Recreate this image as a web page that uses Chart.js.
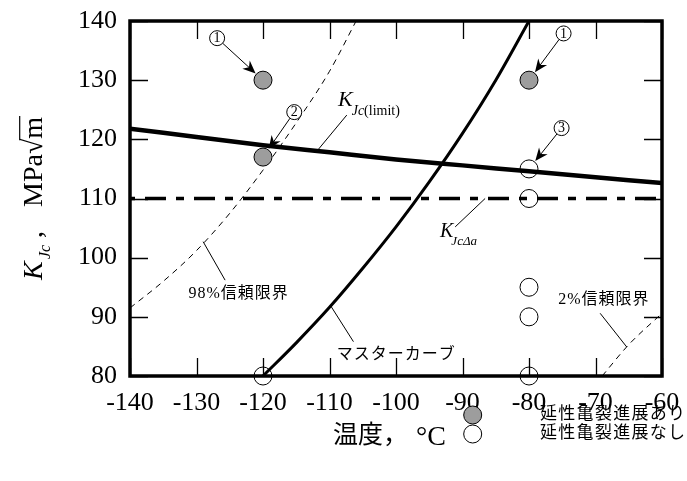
<!DOCTYPE html>
<html>
<head>
<meta charset="utf-8">
<script src="https://cdn.jsdelivr.net/npm/chart.js@4/dist/chart.umd.min.js"></script>
<style>
  html, body { margin: 0; padding: 0; background: #fff; }
  #wrap { width: 687px; height: 481px; position: relative; }
</style>
</head>
<body>
<div id="wrap"><canvas id="c" width="687" height="481"></canvas></div>
<script>
// Axis ticks
const xTicks = [-140, -130, -120, -110, -100, -90, -80, -70, -60];
const yTicks = [80, 90, 100, 110, 120, 130, 140];

// K_Jc(limit) curve
const limitT = [-140, -130, -120, -110, -100, -90, -80, -70, -60];
const limitK = [121.8, 120.4, 119.0, 117.8, 116.6, 115.6, 114.6, 113.6, 112.6];

// K_JcΔa level
const deltaAT = [-140, -60];
const deltaAK = [110, 110];

// Master curve
const masterT = [-120, -115, -110, -105, -100, -95, -90, -85, -80];
const masterK = [80, 85.6, 91.6, 98.2, 105.2, 112.8, 121.0, 130.0, 140];

// 98% confidence bound
const upperT = [-140, -135, -130, -125, -120, -115, -110, -106];
const upperK = [91.5, 96.0, 101.2, 107.5, 114.8, 122.8, 131.5, 140];

// 2% confidence bound
const lowerT = [-69, -65, -60];
const lowerK = [80, 85.3, 90.6];

// Test results: ductile crack growth observed / not observed
const growthT = [-120, -120, -80];
const growthK = [130, 117, 130];
const noGrowthT = [-120, -80, -80, -80, -80, -80];
const noGrowthK = [80, 115, 110, 95, 90, 80];

const SERIF = '"Liberation Serif", "Times New Roman", serif';
const MIXED = '"Liberation Serif", "Noto Sans CJK JP", "Noto Sans CJK SC", serif';
const GRAY = '#9d9d9d';

const pts = (xs, ys) => xs.map((x, i) => ({ x, y: ys[i] }));

function curve(xs, ys, width, dash, offset) {
  return {
    type: 'scatter',
    data: pts(xs, ys),
    showLine: true,
    borderColor: '#000',
    backgroundColor: '#000',
    borderWidth: width,
    borderDash: dash || [],
    borderDashOffset: offset || 0,
    borderCapStyle: 'butt',
    pointRadius: 0,
    pointHoverRadius: 0,
    cubicInterpolationMode: 'monotone',
    fill: false,
    order: 2
  };
}

// Callouts: circled numbers pointing at specimens
const callouts = [
  { label: '1', at: [-126.9, 137.1], target: [-120, 130] },
  { label: '2', at: [-115.3, 124.6], target: [-120, 117] },
  { label: '1', at: [-74.8, 137.9], target: [-80, 130] },
  { label: '3', at: [-75.1, 121.9], target: [-80, 115] }
];

// Leader lines for curve labels
const leaders = [
  [[-107.4, 124.1], [-111.9, 118.0]],
  [[-91.1, 105.2], [-86.6, 110.0]],
  [[-125.7, 96.2], [-129.0, 102.7]],
  [[-106.4, 85.8], [-109.9, 92.0]],
  [[-69.3, 90.6], [-65.3, 84.9]]
];

const curveLabels = [
  { text: '98%信頼限界', at: [-131.2, 93.9] },
  { text: 'マスターカーブ', at: [-108.9, 83.55] },
  { text: '2%信頼限界', at: [-75.6, 92.96] }
];

function drawArrow(ctx, x0, y0, x1, y1) {
  const a = Math.atan2(y1 - y0, x1 - x0);
  const L = 13, W = 5.5, N = 4;
  ctx.beginPath();
  ctx.moveTo(x0, y0);
  ctx.lineTo(x1 - Math.cos(a) * N, y1 - Math.sin(a) * N);
  ctx.lineWidth = 1;
  ctx.stroke();
  ctx.save();
  ctx.translate(x1, y1);
  ctx.rotate(a);
  ctx.beginPath();
  ctx.moveTo(0, 0);
  ctx.lineTo(-L, -W);
  ctx.lineTo(-L + N, 0);
  ctx.lineTo(-L, W);
  ctx.closePath();
  ctx.fillStyle = '#000';
  ctx.fill();
  ctx.restore();
}

function spacing(ctx, v) { if ('letterSpacing' in ctx) ctx.letterSpacing = v; }

const decor = {
  id: 'decor',
  afterDraw(chart) {
    const { ctx, chartArea: ca, scales } = chart;
    const px = v => scales.x.getPixelForValue(v);
    const py = v => scales.y.getPixelForValue(v);
    ctx.save();
    ctx.strokeStyle = '#000';
    ctx.fillStyle = '#000';

    // inward ticks on all four sides
    ctx.lineWidth = 1.3;
    const tl = 18;
    xTicks.forEach(t => {
      const x = Math.round(px(t)) + 0.5;
      ctx.beginPath();
      ctx.moveTo(x, ca.bottom); ctx.lineTo(x, ca.bottom - tl);
      ctx.moveTo(x, ca.top); ctx.lineTo(x, ca.top + tl);
      ctx.stroke();
    });
    yTicks.forEach(t => {
      const y = Math.round(py(t)) + 0.5;
      ctx.beginPath();
      ctx.moveTo(ca.left, y); ctx.lineTo(ca.left + tl, y);
      ctx.moveTo(ca.right, y); ctx.lineTo(ca.right - tl, y);
      ctx.stroke();
    });

    // frame
    ctx.lineWidth = 3.5;
    ctx.strokeRect(ca.left, ca.top, ca.right - ca.left, ca.bottom - ca.top);

    // leader lines
    ctx.lineWidth = 1;
    leaders.forEach(([a, b]) => {
      ctx.beginPath();
      ctx.moveTo(px(a[0]), py(a[1]));
      ctx.lineTo(px(b[0]), py(b[1]));
      ctx.stroke();
    });

    // circled numbers with arrows
    const R = 7.5, markerR = 9;
    callouts.forEach(c => {
      const cx = px(c.at[0]), cy = py(c.at[1]);
      const tx = px(c.target[0]), ty = py(c.target[1]);
      const d = Math.hypot(tx - cx, ty - cy);
      const ux = (tx - cx) / d, uy = (ty - cy) / d;
      ctx.beginPath();
      ctx.arc(cx, cy, R, 0, Math.PI * 2);
      ctx.fillStyle = '#fff';
      ctx.fill();
      ctx.lineWidth = 1;
      ctx.stroke();
      ctx.fillStyle = '#000';
      ctx.font = '14px ' + SERIF;
      ctx.textAlign = 'center';
      ctx.textBaseline = 'middle';
      ctx.fillText(c.label, cx, cy + 0.5);
      drawArrow(ctx, cx + ux * R, cy + uy * R, tx - ux * (markerR + 1), ty - uy * (markerR + 1));
    });

    // K_Jc(limit)
    ctx.textAlign = 'left';
    ctx.textBaseline = 'alphabetic';
    let kx = px(-108.72), ky = py(125.63);
    ctx.font = 'italic 22px ' + SERIF;
    ctx.fillText('K', kx, ky);
    let sx = kx + ctx.measureText('K').width - 1;
    ctx.font = 'italic 14px ' + SERIF;
    ctx.fillText('Jc', sx, ky + 9);
    sx += ctx.measureText('Jc').width;
    ctx.font = '14px ' + SERIF;
    ctx.fillText('(limit)', sx, ky + 9);

    // K_JcΔa
    kx = px(-93.38); ky = py(103.54);
    ctx.font = 'italic 20px ' + SERIF;
    ctx.fillText('K', kx, ky);
    sx = kx + ctx.measureText('K').width - 2;
    ctx.font = 'italic 13px ' + SERIF;
    ctx.fillText('JcΔa', sx, ky + 8);

    // curve labels
    ctx.textBaseline = 'middle';
    ctx.font = '16px ' + MIXED;
    spacing(ctx, '1px');
    curveLabels.forEach(l => {
      ctx.fillText(l.text, px(l.at[0]), py(l.at[1]));
    });

    // x-axis title
    spacing(ctx, '0px');
    ctx.textBaseline = 'alphabetic';
    ctx.font = '25px ' + MIXED;
    ctx.fillText('温度，', 333, 443);
    ctx.font = '28px ' + SERIF;
    ctx.fillText('°C', 416, 445);

    // y-axis title
    ctx.save();
    ctx.translate(42, 198);
    ctx.rotate(-Math.PI / 2);
    ctx.textAlign = 'left';
    ctx.textBaseline = 'alphabetic';
    ctx.font = 'italic 28px ' + SERIF;
    ctx.fillText('K', -82, 0);
    ctx.font = 'italic 16px ' + SERIF;
    ctx.fillText('Jc', -61, 8);
    ctx.font = '28px ' + SERIF;
    ctx.fillText(',', -40, 0);
    let tx = -9;
    ctx.fillText('MPa', tx, 0);
    tx += ctx.measureText('MPa').width;
    ctx.fillText('√', tx, 0);
    const sq = ctx.measureText('√');
    tx += sq.width;
    ctx.fillText('m', tx, 0);
    const mw = ctx.measureText('m').width;
    const top = -sq.actualBoundingBoxAscent + 0.7;
    ctx.lineWidth = 1.2;
    ctx.beginPath();
    ctx.moveTo(tx - 1.5, top);
    ctx.lineTo(tx + mw + 1, top);
    ctx.stroke();
    ctx.restore();

    // legend
    const lg = [
      { fill: GRAY, y: 415, text: '延性亀裂進展あり' },
      { fill: '#fff', y: 434, text: '延性亀裂進展なし' }
    ];
    ctx.font = '17px ' + MIXED;
    spacing(ctx, '1.3px');
    ctx.textBaseline = 'middle';
    ctx.textAlign = 'left';
    lg.forEach(e => {
      ctx.beginPath();
      ctx.arc(472.7, e.y, 9, 0, Math.PI * 2);
      ctx.fillStyle = e.fill;
      ctx.fill();
      ctx.lineWidth = 1;
      ctx.strokeStyle = '#000';
      ctx.stroke();
      ctx.fillStyle = '#000';
      ctx.fillText(e.text, 540, e.y);
    });
    ctx.restore();
  }
};

new Chart(document.getElementById('c'), {
  type: 'scatter',
  data: {
    datasets: [
      {
        type: 'scatter', data: pts(growthT, growthK), pointRadius: 9, pointHoverRadius: 9,
        backgroundColor: GRAY, borderColor: '#000', borderWidth: 1, clip: false, order: 0
      },
      {
        type: 'scatter', data: pts(noGrowthT, noGrowthK), pointRadius: 9, pointHoverRadius: 9,
        backgroundColor: 'rgba(255,255,255,0)', borderColor: '#000', borderWidth: 1, clip: false, order: 0
      },
      curve(limitT, limitK, 4.5),
      curve(deltaAT, deltaAK, 3.5, [21, 10, 8, 10], 34),
      curve(masterT, masterK, 3),
      curve(upperT, upperK, 1, [6, 5]),
      curve(lowerT, lowerK, 1, [6, 5])
    ]
  },
  options: {
    responsive: false,
    animation: false,
    events: [],
    layout: { padding: { top: 21, right: 25, left: 0, bottom: 0 } },
    plugins: { legend: { display: false }, tooltip: { enabled: false } },
    scales: {
      x: {
        type: 'linear', min: -140, max: -60,
        afterFit: s => { s.height = 105; s.paddingLeft = 0; s.paddingRight = 0; },
        afterBuildTicks: s => { s.ticks = xTicks.map(v => ({ value: v })); },
        grid: { display: false, drawTicks: false },
        border: { display: false },
        ticks: { color: '#000', padding: 12, font: { family: SERIF, size: 26 }, maxRotation: 0 }
      },
      y: {
        type: 'linear', min: 80, max: 140,
        afterFit: s => { s.width = 130; s.paddingTop = 0; s.paddingBottom = 0; },
        afterBuildTicks: s => { s.ticks = yTicks.map(v => ({ value: v })); },
        grid: { display: false, drawTicks: false },
        border: { display: false },
        ticks: { color: '#000', padding: 13, font: { family: SERIF, size: 26 } }
      }
    }
  },
  plugins: [decor]
});
</script>
</body>
</html>
